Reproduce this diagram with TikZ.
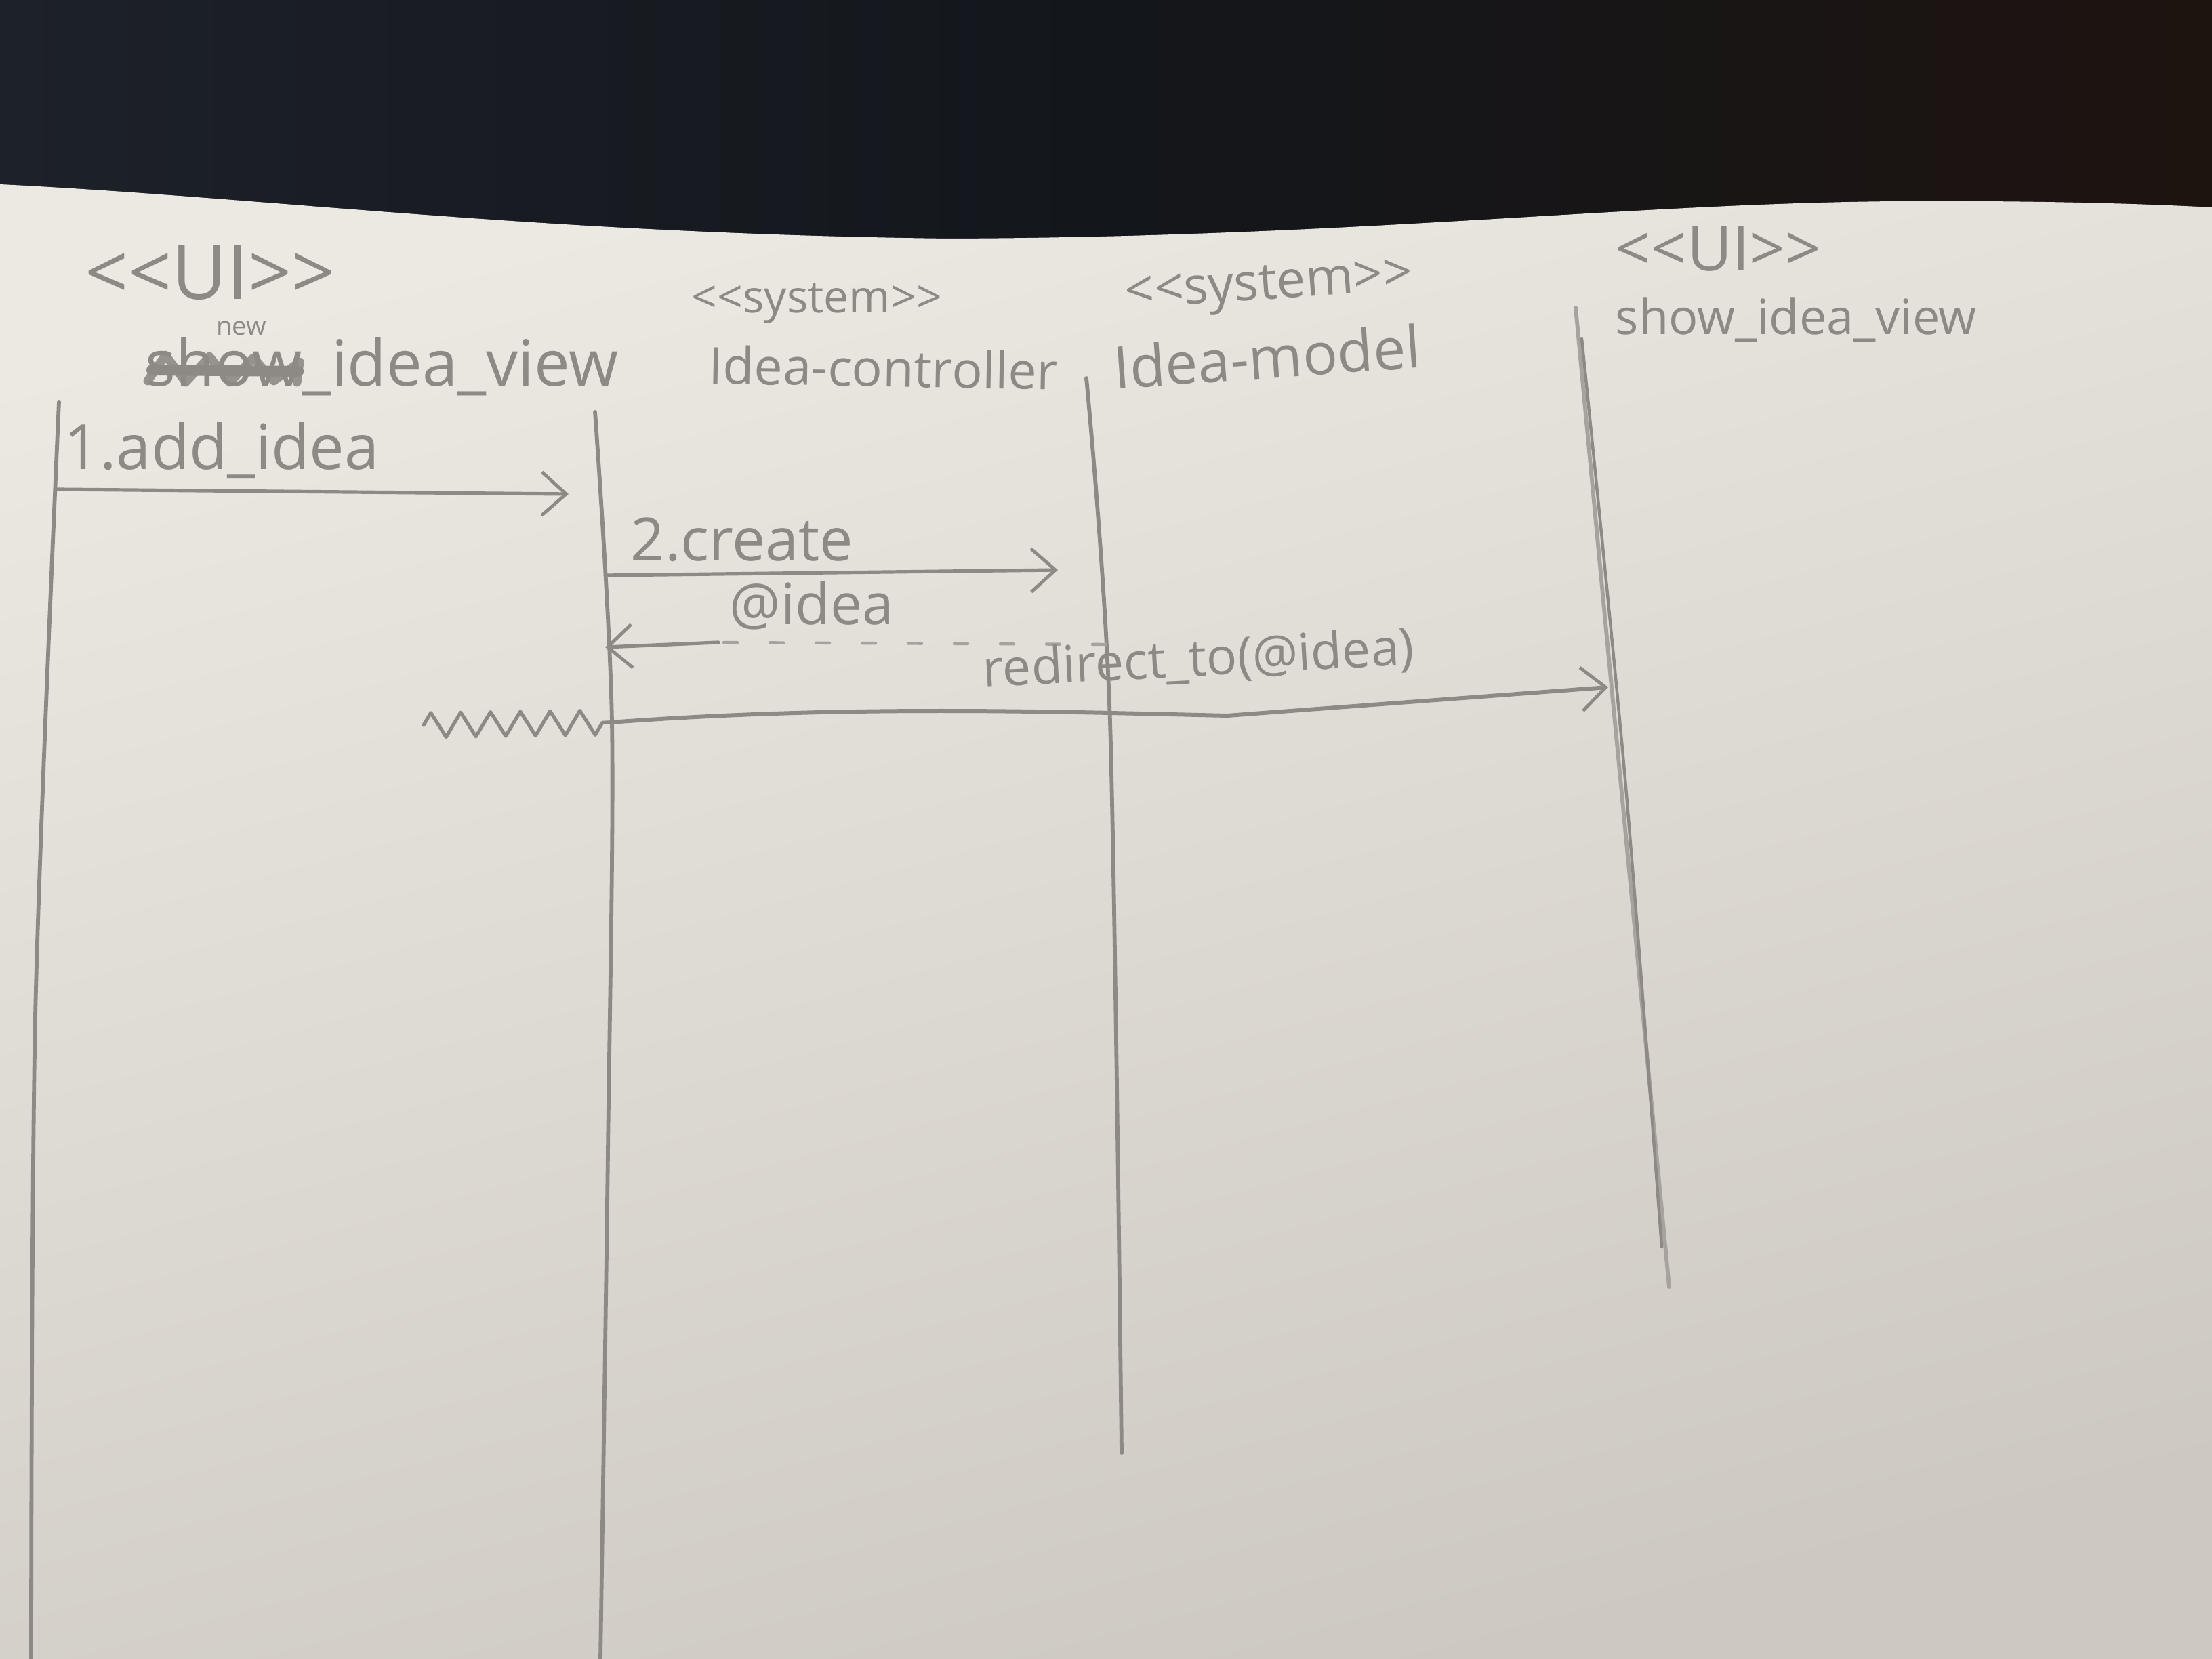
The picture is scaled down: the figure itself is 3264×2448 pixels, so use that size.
\documentclass[tikz,border=0pt]{standalone}
\usepackage{fontspec}
\setmainfont{Open Sans}
\usetikzlibrary{arrows.meta,decorations.pathmorphing,calc}

\definecolor{pencil}{HTML}{8D8A86}
\definecolor{pencilsoft}{HTML}{A6A39F}
\definecolor{papertop}{HTML}{ECE9E3}
\definecolor{paperbot}{HTML}{CDC8C2}
\definecolor{clothleft}{HTML}{1D2128}
\definecolor{clothmid}{HTML}{13161B}
\definecolor{clothright}{HTML}{1D1410}

% two separate "<" / ">" signs, kept apart from the guillemet ligature
\newcommand{\ltlt}{<\kern0pt<}
\newcommand{\gtgt}{>\kern0pt>}

\tikzset{
  pencilline/.style={draw=pencil, line width=1.3pt, line cap=round, line join=round},
  lifeline/.style={pencilline, line width=1.45pt},
  msg/.style={pencilline, -{Straight Barb[length=9pt,width=16pt,line width=1.2pt]}},
  hand/.style={text=pencil, inner sep=0pt, anchor=base west},
}

\begin{document}
\begin{tikzpicture}[x=0.25pt,y=-0.25pt]
\useasboundingbox (0,0) rectangle (3264,2448);

% dark table cloth behind the sheet
\shade[left color=clothleft, right color=clothright, middle color=clothmid]
  (0,0) rectangle (3264,700);

% the sheet of paper
\shade[top color=papertop, bottom color=paperbot, shading angle=15]
  (0,2448) -- (0,272)
  .. controls (400,292) and (800,345) .. (1400,352)
  .. controls (2000,350) and (2400,300) .. (2800,297)
  .. controls (3000,296) and (3150,300) .. (3264,306)
  -- (3264,2448) -- cycle;

% ---------- lifeline heads ----------
\node[hand, font=\fontsize{28}{30}\selectfont] (st1) at (125,442) {\ltlt UI\gtgt};
\node[hand, font=\fontsize{23.5}{26}\selectfont] (nm1a) at (214,570) {show};
\node[hand, font=\fontsize{23.5}{26}\selectfont] (nm1b) at (nm1a.base east) {\_idea\_view};
\node[text=pencil, inner sep=0pt, font=\fontsize{9.5}{11}\selectfont] (nm1new) at (356,484) {new};
% scribble striking out the first word
\draw[draw=pencil, line width=3.2pt, line cap=round, line join=round, opacity=0.9]
  ($(nm1a.base west)+(4,-8)$) -- ($(nm1a.base west)+(30,-46)$)
  -- ($(nm1a.base west)+(60,-6)$) -- ($(nm1a.base west)+(95,-44)$)
  -- ($(nm1a.base west)+(125,-6)$) -- ($(nm1a.base west)+(160,-42)$)
  -- ($(nm1a.base west)+(190,-8)$) -- ($(nm1a.base east)+(-4,-36)$)
  -- ($(nm1a.base east)+(-8,-6)$);
\draw[draw=pencil, line width=4pt, line cap=round]
  ($(nm1a.base west)+(10,-24)$) -- ($(nm1a.base east)+(-6,-22)$);

\node[hand, font=\fontsize{16.5}{18}\selectfont] (st2) at (1020,462) {\ltlt system\gtgt};
\node[hand, font=\fontsize{18.8}{21}\selectfont, rotate=-1] (nm2) at (1045,566) {Idea-controller};

\node[hand, font=\fontsize{19}{21}\selectfont, rotate=4] (st3) at (1661,456) {\ltlt system\gtgt};
\node[hand, font=\fontsize{21.4}{24}\selectfont, rotate=4] (nm3) at (1645,574) {Idea-model};

\node[hand, font=\fontsize{23}{25}\selectfont] (st4) at (2383,400) {\ltlt UI\gtgt};
\node[hand, font=\fontsize{18}{20}\selectfont] (nm4) at (2383,494) {show\_idea\_view};

% ---------- lifelines ----------
\coordinate (L1t) at (87,593);   \coordinate (L1m) at (52,1500);  \coordinate (L1b) at (46,2448);
\coordinate (L2t) at (878,608);  \coordinate (L2m) at (903,1066); \coordinate (L2n) at (897,1700); \coordinate (L2b) at (886,2448);
\coordinate (L3t) at (1603,558); \coordinate (L3m) at (1638,1066); \coordinate (L3b) at (1655,2144);
\coordinate (L4t) at (2325,454); \coordinate (L4m) at (2378,1014); \coordinate (L4b) at (2463,1899);
\coordinate (L4u) at (2334,500); \coordinate (L4v) at (2398,1150); \coordinate (L4w) at (2452,1840);

\draw[lifeline] plot[smooth] coordinates {(L1t) (L1m) (L1b)};
\draw[lifeline] plot[smooth] coordinates {(L2t) (L2m) (L2n) (L2b)};
\draw[lifeline] plot[smooth] coordinates {(L3t) (L3m) (L3b)};
\draw[lifeline, draw=pencilsoft] plot[smooth] coordinates {(L4t) (L4m) (L4b)};
\draw[lifeline, line width=1.1pt] plot[smooth] coordinates {(L4u) (L4v) (L4w)};

% ---------- messages ----------
% 1. add_idea
\coordinate (m1a) at (84,722);
\coordinate (m1b) at (839,729);
\draw[msg] (m1a) -- (m1b);
\node[hand, font=\fontsize{23}{25}\selectfont] (t1) at (94,693) {1.add\_idea};

% 2. create
\coordinate (m2a) at (893,849);
\coordinate (m2b) at (1561,841);
\draw[msg] (m2a) -- (m2b);
\node[hand, font=\fontsize{22}{24}\selectfont] (t2) at (930,828) {2.create};

% return of @idea
\coordinate (m3a) at (1632,951);
\coordinate (m3k) at (1060,948);
\coordinate (m3b) at (893,955);
\draw[pencilline, draw=pencilsoft, line width=1.1pt, dash pattern=on 5pt off 12pt] (m3a) -- (m3k);
\draw[msg] (m3k) -- (m3b);
\node[hand, font=\fontsize{21}{23}\selectfont] (t3) at (1076,922) {@idea};

% redirect_to(@idea), issued after the wavy time lapse
\coordinate (w0) at (625,1070);
\coordinate (m4a) at (900,1066);
\coordinate (m4c) at (1250,1040);
\coordinate (m4d) at (1550,1050);
\coordinate (m4k) at (1811,1056);
\coordinate (m4b) at (2373,1014);
\draw[pencilline, decorate, decoration={zigzag, segment length=11pt, amplitude=4.5pt}] (w0) -- (m4a);
\draw[msg, line width=1.5pt] (m4a) .. controls (m4c) and (m4d) .. (m4k) -- (m4b);
\node[hand, font=\fontsize{18.8}{21}\selectfont, rotate=3] (t4) at (1451,1014) {redirect\_to(@idea)};

\end{tikzpicture}
\end{document}
